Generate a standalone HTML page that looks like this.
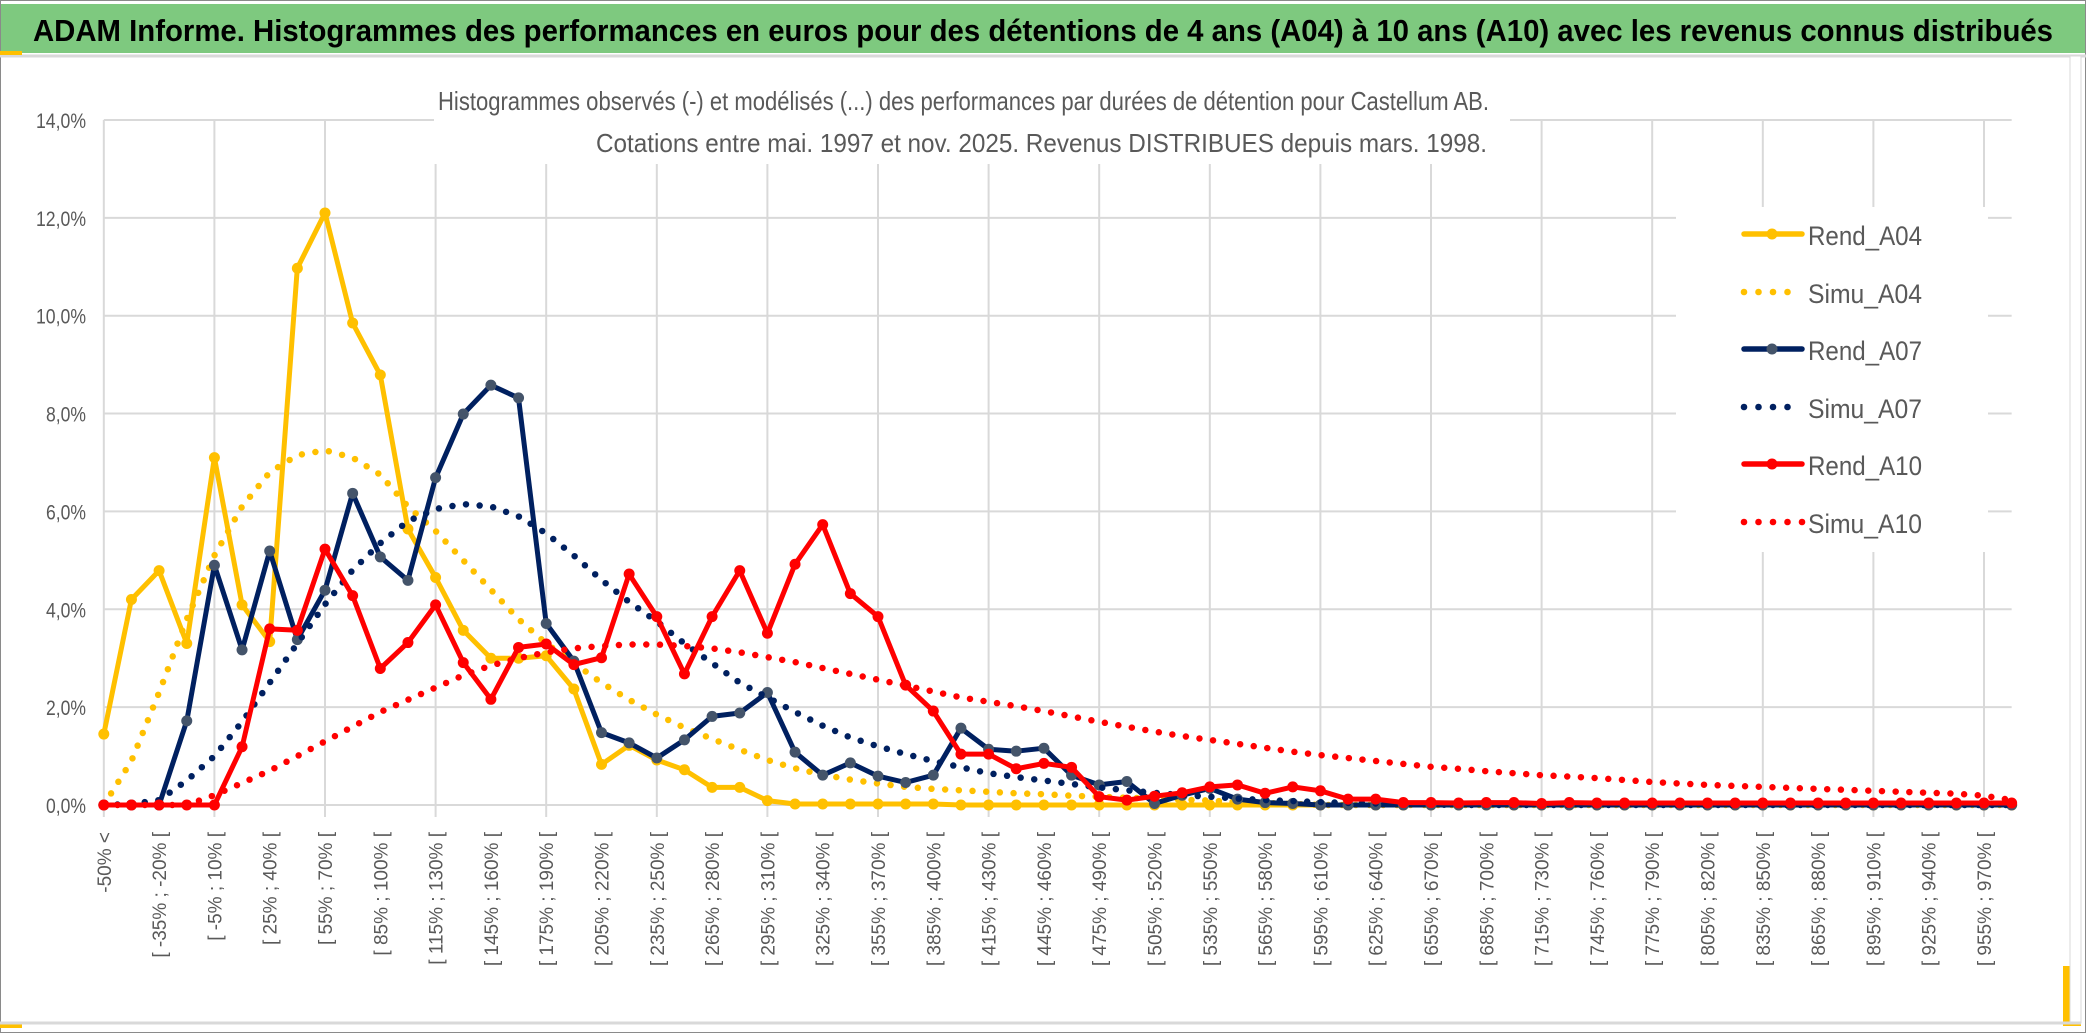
<!DOCTYPE html>
<html><head><meta charset="utf-8"><style>
html,body{margin:0;padding:0;background:#fff;}
svg{display:block;font-family:"Liberation Sans",sans-serif;}
</style></head><body>
<svg id="chart" width="2086" height="1033" viewBox="0 0 2086 1033" xmlns="http://www.w3.org/2000/svg">
<rect x="0.5" y="0.5" width="2085" height="1032" fill="#fff" stroke="#8a8a8a"/>
<rect x="1" y="4" width="2084" height="49" fill="#7ec97f"/>
<line x1="0" y1="56" x2="2086" y2="56" stroke="#d9d9d9" stroke-width="3"/>
<rect x="0" y="51" width="22" height="4" fill="#ffc000"/>
<rect x="0" y="1023" width="22" height="5" fill="#ffc000"/>
<rect x="2063" y="966" width="18" height="60" fill="#ffc000"/>
<rect x="2070" y="56" width="11" height="967" fill="#fff" stroke="#d9d9d9" stroke-width="1"/>
<line x1="0" y1="1023" x2="2081" y2="1023" stroke="#d9d9d9" stroke-width="3"/>
<text x="33" y="41" font-size="31" font-weight="bold" fill="#000" textLength="2020" lengthAdjust="spacingAndGlyphs">ADAM Informe. Histogrammes des performances en euros pour des détentions de 4 ans (A04) à 10 ans (A10) avec les revenus connus distribués</text>
<g id="grid"></g>
<rect x="434" y="82" width="1076" height="82" fill="#fff"/>
<rect x="1676" y="207" width="312" height="345" fill="#fff"/>
<text x="438" y="110" font-size="26" fill="#595959" textLength="1051" lengthAdjust="spacingAndGlyphs">Histogrammes observés (-) et modélisés (...) des performances par durées de détention pour Castellum AB.</text>
<text x="596" y="152" font-size="26" fill="#595959" textLength="891" lengthAdjust="spacingAndGlyphs">Cotations entre mai. 1997 et nov. 2025. Revenus DISTRIBUES depuis mars. 1998.</text>
<g id="yaxis"></g>
<g id="xaxis"></g>
<g id="series"></g>
<g id="legend"></g>
</svg>
<script>
const yTicks = [0, 2, 4, 6, 8, 10, 12, 14];
const yTickLabels = ["0,0%","2,0%","4,0%","6,0%","8,0%","10,0%","12,0%","14,0%"];
const categories = ["-50% <"];
for (let a = -50; a < 985; a += 15) categories.push("[ " + a + "% ; " + (a + 15) + "% [");
const rendA04 = [1.45,4.2,4.79,3.3,7.1,4.09,3.34,10.97,12.1,9.85,8.79,5.64,4.65,3.57,3.0,3.0,3.05,2.37,0.83,1.22,0.92,0.72,0.36,0.36,0.09,0.02,0.02,0.02,0.02,0.02,0.02,0,0,0,0,0,0,0,0,0,0,0,0,0,0,0,0,0,0,0,0,0,0,0,0,0,0,0,0,0,0,0,0,0,0,0,0,0,0,0];
const simuA04 = [0,0.9,2.3,3.8,5.1,6.1,6.8,7.15,7.25,7.1,6.75,6.1,5.6,5.0,4.4,3.8,3.3,2.9,2.5,2.15,1.85,1.58,1.35,1.13,0.92,0.75,0.62,0.52,0.44,0.37,0.33,0.3,0.27,0.24,0.22,0.19,0.17,0.15,0.13,0.11,0.09,0.06,0.04,0.02,0,0,0,0,0,0,0,0,0,0,0,0,0,0,0,0,0,0,0,0,0,0,0,0,0,0];
const rendA07 = [0,0,0,1.72,4.9,3.17,5.19,3.38,4.39,6.37,5.07,4.59,6.69,7.99,8.58,8.32,3.71,2.94,1.48,1.27,0.96,1.33,1.81,1.88,2.3,1.08,0.61,0.86,0.59,0.46,0.61,1.57,1.14,1.1,1.16,0.61,0.41,0.48,0.03,0.2,0.34,0.12,0.05,0.03,0,0,0,0,0,0,0,0,0,0,0,0,0,0,0,0,0,0,0,0,0,0,0,0,0,0];
const simuA07 = [0,0.02,0.1,0.5,1.0,1.7,2.5,3.3,4.1,4.8,5.35,5.8,6.05,6.15,6.1,5.9,5.55,5.1,4.6,4.15,3.75,3.3,2.9,2.5,2.2,1.9,1.62,1.38,1.2,1.04,0.9,0.77,0.65,0.57,0.5,0.43,0.36,0.3,0.25,0.2,0.17,0.13,0.1,0.08,0.06,0.04,0.03,0.02,0.01,0,0,0,0,0,0,0,0,0,0,0,0,0,0,0,0,0,0,0,0,0];
const rendA10 = [0,0,0,0,0,1.19,3.6,3.57,5.23,4.28,2.79,3.32,4.09,2.91,2.16,3.22,3.29,2.87,3.01,4.72,3.85,2.68,3.85,4.79,3.51,4.92,5.73,4.32,3.85,2.45,1.92,1.04,1.04,0.74,0.85,0.77,0.17,0.1,0.18,0.25,0.37,0.41,0.24,0.37,0.29,0.12,0.12,0.05,0.05,0.04,0.05,0.05,0.03,0.05,0.04,0.04,0.04,0.04,0.04,0.04,0.04,0.04,0.04,0.04,0.04,0.04,0.04,0.04,0.04,0.04];
const simuA10 = [0,0,0,0,0.2,0.45,0.7,1.0,1.3,1.6,1.9,2.15,2.4,2.65,2.85,3.0,3.12,3.2,3.25,3.28,3.28,3.25,3.2,3.12,3.02,2.92,2.8,2.68,2.56,2.44,2.32,2.2,2.11,2.02,1.92,1.81,1.7,1.6,1.5,1.41,1.33,1.25,1.17,1.09,1.02,0.96,0.9,0.84,0.78,0.74,0.69,0.65,0.61,0.58,0.55,0.51,0.47,0.44,0.41,0.39,0.37,0.35,0.33,0.31,0.29,0.27,0.25,0.23,0.19,0.1];
const seriesNames = ["Rend_A04","Simu_A04","Rend_A07","Simu_A07","Rend_A10","Simu_A10"];

const NS = "http://www.w3.org/2000/svg";
const X0 = 103.8, XSTEP = 27.65, Y0 = 805, YUNIT = 48.93;
function xScale(i){ return X0 + i * XSTEP; }
function yScale(v){ return Y0 - v * YUNIT; }
function mk(tag, attrs, parent){ const e = document.createElementNS(NS, tag); for (const k in attrs) e.setAttribute(k, attrs[k]); parent.appendChild(e); return e; }

const grid = document.getElementById("grid");
yTicks.forEach(function(t){
  const l = mk("line", {x1: xScale(0), x2: xScale(categories.length - 1), y1: yScale(t), y2: yScale(t), stroke: "#d9d9d9", "stroke-width": 2}, grid);
  
  
});
for (let i = 0; i < categories.length; i += 4) {
  const l = mk("line", {x1: xScale(i), x2: xScale(i), y1: yScale(14), y2: yScale(0) + 12, stroke: "#d9d9d9", "stroke-width": 2}, grid);
  
  
}

const yaxis = document.getElementById("yaxis");
yTicks.forEach(function(t, k){
  const lab = yTickLabels[k];
  const tx = mk("text", {x: 86, y: yScale(t) + 8, "font-size": 21, fill: "#595959", "text-anchor": "end", textLength: lab.length * 10, lengthAdjust: "spacingAndGlyphs"}, yaxis);
  tx.textContent = lab;
  
  
});

const xaxis = document.getElementById("xaxis");
for (let i = 0; i < categories.length; i += 2) {
  const cx = xScale(i) + 7;
  const tx = mk("text", {x: cx, y: 832, "font-size": 19, fill: "#595959", "text-anchor": "end", transform: "rotate(-90 " + cx + " 832)"}, xaxis);
  tx.textContent = categories[i];
  
  
}

const sg = document.getElementById("series");
function drawSeries(vals, color, dotted, markerColor, name){
  const g = mk("g", {}, sg);
  
  
  const pts = vals.map(function(v, i){ return xScale(i).toFixed(1) + "," + yScale(v).toFixed(1); }).join(" ");
  const attrs = {points: pts, fill: "none", stroke: color, "stroke-linejoin": "round", "stroke-linecap": "round"};
  if (dotted) { attrs["stroke-width"] = 6.5; attrs["stroke-dasharray"] = "0 13.7"; }
  else { attrs["stroke-width"] = 5; }
  const pl = mk("polyline", attrs, g);
  
  
  if (!dotted) {
    vals.forEach(function(v, i){
      const c = mk("circle", {cx: xScale(i), cy: yScale(v), r: 5.5, fill: markerColor}, g);
      
      
    });
  }
}
drawSeries(rendA04, "#ffc000", false, "#ffc000", "rend-a04");
drawSeries(simuA04, "#ffc000", true, null, "simu-a04");
drawSeries(rendA07, "#002060", false, "#44546a", "rend-a07");
drawSeries(simuA07, "#002060", true, null, "simu-a07");
drawSeries(rendA10, "#ff0000", false, "#ff0000", "rend-a10");
drawSeries(simuA10, "#ff0000", true, null, "simu-a10");

const lg = document.getElementById("legend");
const legColors = ["#ffc000","#ffc000","#002060","#002060","#ff0000","#ff0000"];
const legMarker = ["#ffc000",null,"#44546a",null,"#ff0000",null];
const legBase = [245, 303, 360, 418, 475, 533];
seriesNames.forEach(function(n, k){
  const g = mk("g", {}, lg);
  
  
  const cy = legBase[k] - 11;
  if (k % 2 === 0) {
    const l = mk("line", {x1: 1744, x2: 1802, y1: cy, y2: cy, stroke: legColors[k], "stroke-width": 5.5, "stroke-linecap": "round"}, g);
    
    
    const c = mk("circle", {cx: 1772, cy: cy, r: 5.5, fill: legMarker[k]}, g);
    
    
  } else {
    const nd = k === 5 ? 5 : 4;
    for (let d = 0; d < nd; d++) {
      const c = mk("circle", {cx: 1744 + d * 14.5, cy: cy, r: 3.3, fill: legColors[k]}, g);
      
      
    }
  }
  const t = mk("text", {x: 1808, y: legBase[k], "font-size": 27, fill: "#595959", textLength: 114, lengthAdjust: "spacingAndGlyphs"}, g);
  t.textContent = n;
  
  
});
</script>
</body></html>
